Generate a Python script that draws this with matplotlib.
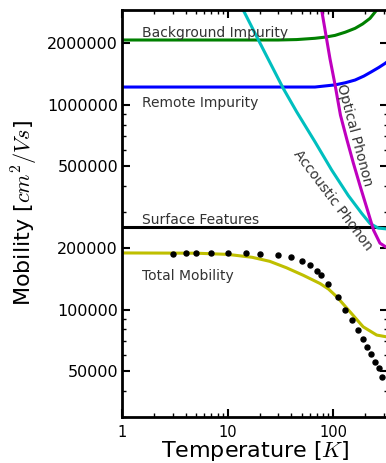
import matplotlib
matplotlib.use("Agg")
import matplotlib.pyplot as plt
from matplotlib.ticker import FixedLocator, FixedFormatter, NullFormatter

# --- data (T in K, mobility in cm^2/Vs) ---
t_bg = [1, 30, 45, 67, 85, 104, 130, 161, 190, 223, 258, 275]
mu_bg = [2.07e6, 2.07e6, 2.08e6, 2.11e6, 2.14e6, 2.18e6, 2.26e6, 2.36e6, 2.48e6,
         2.64e6, 2.90e6, 3.05e6]

t_remote = [1, 30, 67, 104, 130, 161, 195, 231, 270, 309, 335]
mu_remote = [1.22e6, 1.22e6, 1.22e6, 1.25e6, 1.28e6, 1.32e6, 1.38e6, 1.45e6, 1.52e6,
             1.59e6, 1.64e6]

t_ac = [13.3, 14.0, 21.7, 33.6, 45, 67.1, 96.6, 139, 186, 223, 267, 335]
mu_ac = [3.05e6, 2.9e6, 1.86e6, 1.20e6, 9.23e5, 6.59e5, 4.80e5, 3.6e5, 2.95e5,
         2.63e5, 2.5e5, 2.47e5]

t_op = [76, 77.6, 93, 104, 117, 135, 155, 181, 211, 241, 277, 316, 335]
mu_op = [3.05e6, 2.9e6, 1.68e6, 1.25e6, 8.89e5, 6.72e5, 5.19e5, 3.96e5, 3.06e5,
         2.44e5, 2.11e5, 2.02e5, 2.01e5]

t_surf = [1, 335]
mu_surf = [2.54e5, 2.54e5]

t_total = [1, 5, 10, 17, 25, 36, 52, 75, 90, 108, 144, 192, 258, 335]
mu_total = [1.89e5, 1.885e5, 1.86e5, 1.80e5, 1.72e5, 1.60e5, 1.47e5, 1.34e5, 1.26e5,
            1.155e5, 9.76e4, 8.24e4, 7.51e4, 7.33e4]

t_meas = [3, 4, 5, 7, 10, 15, 20, 30, 40, 50, 60, 70, 77, 90, 110, 130, 150, 170,
          190, 210, 230, 250, 270, 290]
mu_meas = [1.86e5, 1.88e5, 1.88e5, 1.88e5, 1.88e5, 1.88e5, 1.86e5, 1.845e5, 1.80e5,
           1.73e5, 1.65e5, 1.545e5, 1.47e5, 1.33e5, 1.147e5, 1.0e5, 8.9e4, 7.94e4,
           7.18e4, 6.58e4, 6.06e4, 5.56e4, 5.16e4, 4.70e4]

y_ticks = [50000, 100000, 200000, 500000, 1000000, 2000000]
x_ticks = [1, 10, 100]

plt.rcParams["mathtext.fontset"] = "cm"

fig = plt.figure(figsize=(3.86, 4.63), dpi=100)
# right spine sits just past the image edge, as in the reference crop
ax = fig.add_axes([0.3168, 0.1, 0.6883, 0.8784])

lw = 2.2
ax.plot(t_bg, mu_bg, color="g", lw=lw)
ax.plot(t_remote, mu_remote, color="b", lw=lw)
ax.plot(t_surf, mu_surf, color="k", lw=lw)
ax.plot(t_ac, mu_ac, color="c", lw=lw)
ax.plot(t_op, mu_op, color="m", lw=lw)
ax.plot(t_total, mu_total, color="y", lw=lw)
ax.plot(t_meas, mu_meas, "ko", ms=3.6, mec="k")

ax.set_xscale("log")
ax.set_yscale("log")
ax.set_xlim(1, 330)
ax.set_ylim(3e4, 2.9e6)

ax.yaxis.set_major_locator(FixedLocator(y_ticks))
ax.yaxis.set_major_formatter(FixedFormatter([str(v) for v in y_ticks]))
minor_y = [m * 10 ** e for e in range(4, 7) for m in range(1, 10)
           if m * 10 ** e not in y_ticks and 3e4 <= m * 10 ** e <= 2.9e6]
ax.yaxis.set_minor_locator(FixedLocator(minor_y))
ax.yaxis.set_minor_formatter(NullFormatter())

ax.xaxis.set_major_locator(FixedLocator(x_ticks))
ax.xaxis.set_major_formatter(FixedFormatter([str(v) for v in x_ticks]))
minor_x = [m * 10 ** e for e in range(0, 3) for m in range(2, 10) if m * 10 ** e <= 330]
ax.xaxis.set_minor_locator(FixedLocator(minor_x))
ax.xaxis.set_minor_formatter(NullFormatter())

ax.tick_params(which="both", direction="in", top=True, right=True)
ax.tick_params(which="major", length=6, width=1.5)
ax.tick_params(which="minor", length=3, width=1)
ax.tick_params(axis="y", labelsize=11.5, pad=3)
ax.tick_params(axis="x", labelsize=10.5, pad=6)
for s in ax.spines.values():
    s.set_linewidth(2)

ax.set_xlabel("Temperature [$K$]", fontsize=16)
ax.set_ylabel("Mobility [$cm^2/Vs$]", fontsize=16)
ax.xaxis.set_label_coords(0.5, -0.055)
ax.yaxis.set_label_coords(-0.31, 0.5)

fs = 10
ax.text(1.53, 2.24e6, "Background Impurity", fontsize=fs, va="center", color="#333333")
ax.text(1.53, 1.02e6, "Remote Impurity", fontsize=fs, va="center", color="#333333")
ax.text(1.53, 2.73e5, "Surface Features", fontsize=fs, va="center", color="#333333")
ax.text(1.53, 1.46e5, "Total Mobility", fontsize=fs, va="center", color="#333333")
ax.text(157, 7.1e5, "Optical Phonon", fontsize=fs, rotation=-75, ha="center",
        va="center", rotation_mode="anchor", color="#333333")
ax.text(99, 3.43e5, "Accoustic Phonon", fontsize=fs, rotation=-53, ha="center",
        va="center", rotation_mode="anchor", color="#333333")

fig.savefig("out.png", dpi=100)
